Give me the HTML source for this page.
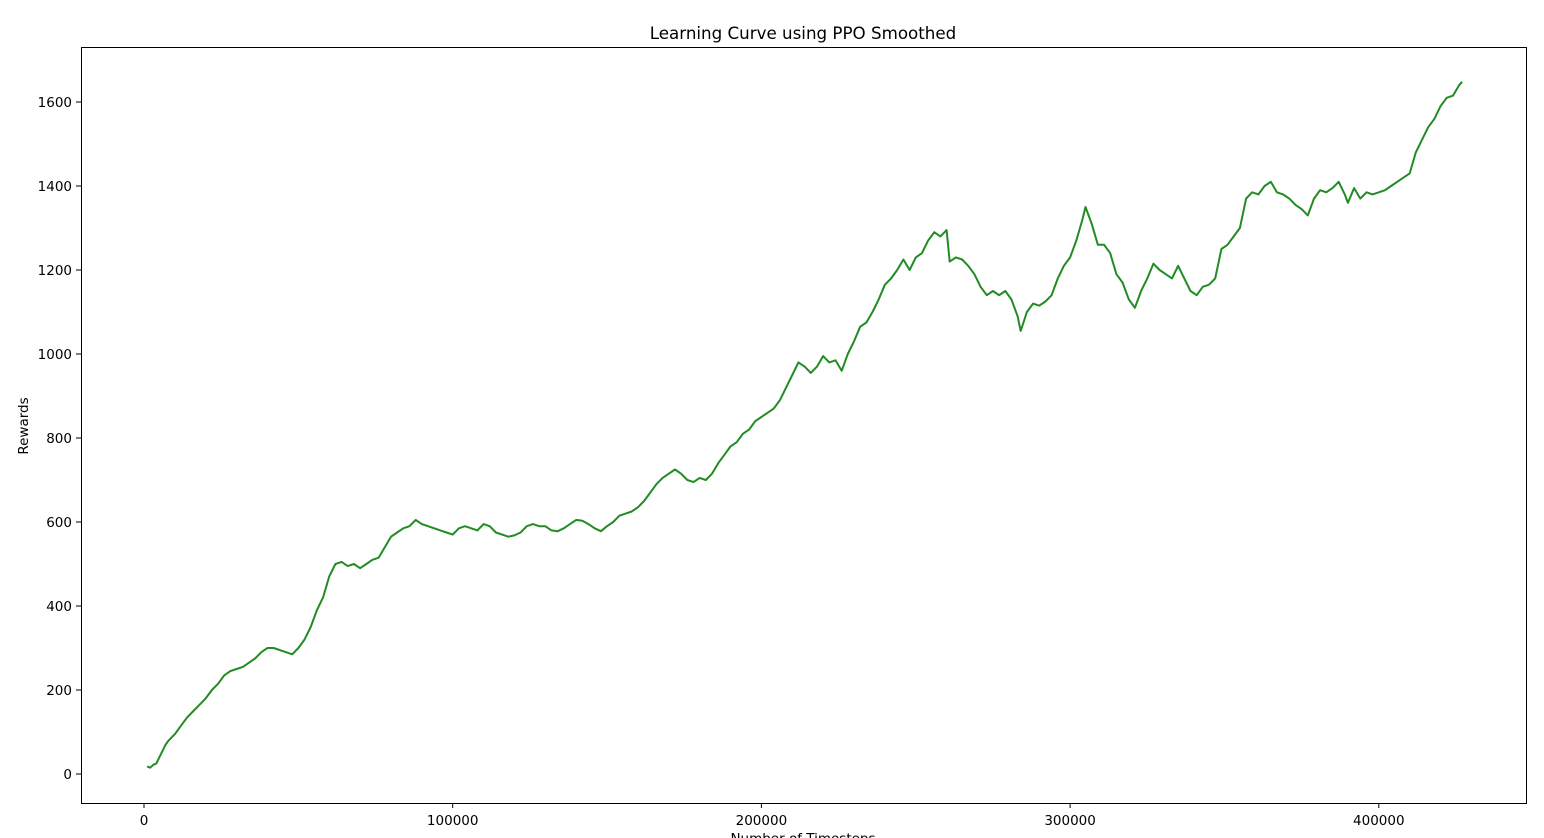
<!DOCTYPE html>
<html><head><meta charset="utf-8"><style>
body{margin:0;background:#fff;}
svg{display:block;font-family:"DejaVu Sans","Liberation Sans",sans-serif;}
</style></head><body>
<svg id="chart" width="1544" height="838">
<rect width="1544" height="838" fill="#fff"/>
<text x="803" y="39" text-anchor="middle" font-size="16.7">Learning Curve using PPO Smoothed</text>
<g id="ticks"></g>
<path id="line" fill="none" stroke="#228B22" stroke-width="2" stroke-linejoin="round"/>
<rect x="81.5" y="47.5" width="1445" height="756" fill="none" stroke="#000" stroke-width="1"/>
<text x="28" y="426" transform="rotate(-90 28 426)" text-anchor="middle" font-size="13.5">Rewards</text>
<text x="803" y="843" text-anchor="middle" font-size="13.5">Number of Timesteps</text>
</svg>
<script>
const timestepsK=[1,2,3,4,5,6,7,8,10,12,14,16,18,20,22,24,26,28,30,32,34,36,38,40,42,44,46,48,50,52,54,56,58,60,62,64,66,68,70,72,74,76,78,80,82,84,86,88,90,92,94,96,98,100,102,104,106,108,110,112,114,116,118,120,122,124,126,128,130,132,134,136,138,140,142,144,146,148,150,152,154,156,158,160,162,164,166,168,170,172,174,176,178,180,182,184,186,188,190,192,194,196,198,200,202,204,206,208,210,212,214,216,218,220,222,224,226,228,230,232,234,236,238,240,242,244,246,248,250,252,254,256,258,260,261,263,265,267,269,271,273,275,277,279,281,283,284,286,288,290,292,294,296,298,300,302,304,305,307,309,311,313,315,317,319,321,323,325,327,329,331,333,335,337,339,341,343,345,347,349,351,353,355,357,359,361,363,365,367,369,371,373,375,377,379,381,383,385,387,389,390,392,394,396,398,400,402,404,406,408,410,412,414,416,418,420,422,424,426,427];
const rewards=[18,15,22,25,40,55,70,80,95,115,135,150,165,180,200,215,235,245,250,255,265,275,290,300,300,295,290,285,300,320,350,390,420,470,500,505,495,500,490,500,510,515,540,565,575,585,590,605,595,590,585,580,575,570,585,590,585,580,595,590,575,570,565,568,575,590,595,590,590,580,578,585,595,605,603,595,585,578,590,600,615,620,625,635,650,670,690,705,715,725,715,700,695,705,700,715,740,760,780,790,810,820,840,850,860,870,890,920,950,980,970,955,970,995,980,985,960,1000,1030,1065,1075,1100,1130,1165,1180,1200,1225,1200,1230,1240,1270,1290,1280,1295,1220,1230,1225,1210,1190,1160,1140,1150,1140,1150,1130,1090,1055,1100,1120,1115,1125,1140,1180,1210,1230,1270,1320,1350,1310,1260,1260,1240,1190,1170,1130,1110,1150,1180,1215,1200,1190,1180,1210,1180,1150,1140,1160,1165,1180,1250,1260,1280,1300,1370,1385,1380,1400,1410,1385,1380,1370,1355,1345,1330,1370,1390,1385,1395,1410,1380,1360,1395,1370,1385,1380,1385,1390,1400,1410,1420,1430,1480,1510,1540,1560,1590,1610,1615,1640,1648];
const xTicks=[0,100000,200000,300000,400000];
const yTicks=[0,200,400,600,800,1000,1200,1400,1600];
const xs=v=>144+v*308.7/100000;
const ys=v=>774-v*0.42;
const NS="http://www.w3.org/2000/svg";
const g=document.getElementById('ticks');
function mk(tag,attrs){const e=document.createElementNS(NS,tag);for(const k in attrs)e.setAttribute(k,attrs[k]);g.appendChild(e);return e;}
xTicks.forEach(t=>{const x=xs(t);
const l=mk('line',{x1:x,x2:x,y1:803,y2:808,stroke:'#000'});


const tx=mk('text',{x:x,y:825,'text-anchor':'middle','font-size':13.5});tx.textContent=t;

});
yTicks.forEach(t=>{const y=ys(t);
const l=mk('line',{x1:76,x2:81,y1:y,y2:y,stroke:'#000'});


const tx=mk('text',{x:72,y:y+5,'text-anchor':'end','font-size':13.5});tx.textContent=t;

});
document.getElementById('line').setAttribute('d',timestepsK.map((k,i)=>(i?'L':'M')+xs(k*1000).toFixed(1)+','+ys(rewards[i]).toFixed(1)).join(''));
</script>
</body></html>
